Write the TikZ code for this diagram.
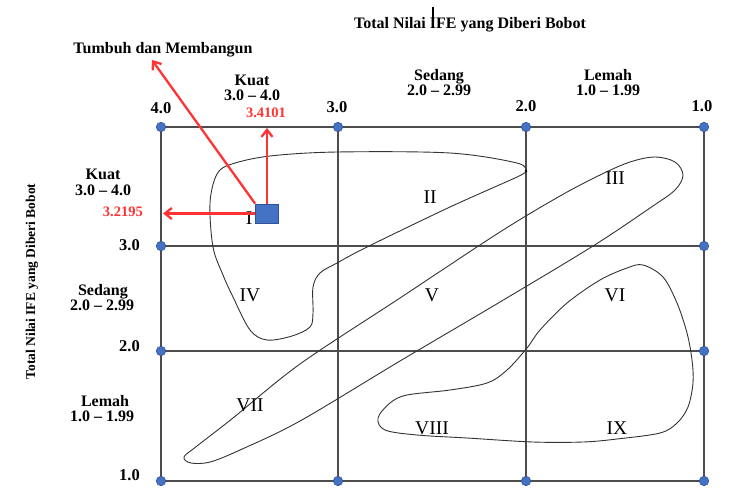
\documentclass[tikz,border=0pt]{standalone}
\usepackage{fontspec}
\setmainfont{Liberation Serif}
\usetikzlibrary{arrows.meta}
\definecolor{dotblue}{HTML}{4472C4}
\definecolor{dotedge}{HTML}{2F5597}
\definecolor{arrred}{HTML}{FF3333}
\definecolor{gridc}{HTML}{4D4D4D}
\definecolor{curvec}{HTML}{333333}
\tikzset{
  lbl/.style={font=\fontsize{16}{16}\selectfont\bfseries, inner sep=0pt, anchor=base},
  numlbl/.style={font=\fontsize{16.5}{16}\selectfont\bfseries, inner sep=0pt, anchor=base},
  rednum/.style={font=\fontsize{14.5}{15}\selectfont\bfseries, inner sep=0pt, text=arrred},
  roman/.style={font=\fontsize{19.5}{20}\selectfont, inner sep=0pt},
  gdot/.style={circle, fill=dotblue, draw=dotedge, line width=0.6pt, minimum size=9.5pt, inner sep=0pt},
  gridline/.style={draw=gridc, line width=1.2pt},
  blob/.style={draw=curvec, line width=0.9pt},
  redarrow/.style={draw=arrred, line width=2.3pt, -{Straight Barb[length=7pt,width=11pt]}},
  posbox/.style={rectangle, fill=dotblue, draw=dotedge, line width=0.8pt, minimum width=23pt, minimum height=19pt, inner sep=0pt}
}
\begin{document}
\begin{tikzpicture}[x=1pt,y=-1pt]
\useasboundingbox (0,0) rectangle (742,499);
% grid coordinates
\coordinate (a1) at (161,127); \coordinate (a2) at (338,127); \coordinate (a3) at (526,127); \coordinate (a4) at (704,127);
\coordinate (b1) at (161,246); \coordinate (b4) at (704,246);
\coordinate (c1) at (161,351); \coordinate (c4) at (704,351);
\coordinate (e1) at (161,481); \coordinate (e2) at (338,481); \coordinate (e3) at (526,481); \coordinate (e4) at (704,481);
% grid lines
\draw[gridline] (a1) -- (a4);
\draw[gridline] (b1) -- (b4);
\draw[gridline] (c1) -- (c4);
\draw[gridline] (e1) -- (e4);
\draw[gridline] (a1) -- (e1);
\draw[gridline] (a2) -- (e2);
\draw[gridline] (a3) -- (e3);
\draw[gridline] (a4) -- (e4);
% curves
\draw[blob] plot[smooth, tension=0.55] coordinates {(526,171) (517,163) (450,153) (337,152) (270,156) (232,164) (217,174) (210,203) (213,247) (223,275) (233,297) (250,330) (267,340) (292,336) (310,327) (313,313) (313,287) (320,273) (337,263) (367,247) (450,207) (517,177) (526,171)};
\draw[blob] plot[smooth cycle, tension=0.55] coordinates {(184,457) (197,446) (233,418) (300,364) (400,298) (500,232) (560,196) (600,175) (630,162) (655,157) (675,162) (683,175) (675,190) (650,208) (593,246) (500,302) (400,361) (300,421) (240,450) (210,462) (191,463)};
\draw[blob] plot[smooth cycle, tension=0.55] coordinates {(643,265) (663,277) (677,303) (687,333) (692,360) (693,383) (688,407) (677,423) (660,433) (617,439) (583,442) (533,442) (467,438) (417,435) (385,430) (378,418) (390,403) (407,395) (450,390) (487,383) (507,370) (527,348) (540,330) (567,303) (600,280) (627,268)};
\fill[black] (526,171) circle (1.4pt);
% dots
\foreach \p in {a1,a2,a3,a4,b1,b4,c1,c4,e1,e2,e3,e4}{\node[gdot] at (\p) {};}
% titles
\node[lbl] (title) at (470,28) {Total Nilai IFE yang Diberi Bobot};
\draw[black, line width=1.6pt] (433,7) -- (433,19);
\node[lbl, rotate=90, anchor=center, font=\fontsize{13.5}{14}\selectfont\bfseries] (vtitle) at (32,281.5) {Total Nilai IFE yang Diberi Bobot};
\node[lbl] (tumbuh) at (163,53) {Tumbuh dan Membangun};
% column headers
\node[lbl] (k1) at (252,85) {Kuat};
\node[lbl] (k2) at (252,100) {3.0 -- 4.0};
\node[lbl] (s1) at (439,80) {Sedang};
\node[lbl] (s2) at (439,95) {2.0 -- 2.99};
\node[lbl] (l1) at (608,80) {Lemah};
\node[lbl] (l2) at (608,95) {1.0 -- 1.99};
\node[numlbl] (x4) at (161,113) {4.0};
\node[numlbl] (x3) at (337,112) {3.0};
\node[numlbl] (x2) at (526,111) {2.0};
\node[numlbl] (x1) at (702,111) {1.0};
\node[rednum, anchor=base] (rx) at (266,117) {3.4101};
% row headers
\node[lbl] (rk1) at (103,179) {Kuat};
\node[lbl] (rk2) at (103,195) {3.0 -- 4.0};
\node[lbl] (rs1) at (103,295) {Sedang};
\node[lbl] (rs2) at (102,310) {2.0 -- 2.99};
\node[lbl] (rl1) at (105,406) {Lemah};
\node[lbl] (rl2) at (102,421) {1.0 -- 1.99};
\node[numlbl, anchor=base east] (y3) at (140,250) {3.0};
\node[numlbl, anchor=base east] (y2) at (140,351) {2.0};
\node[numlbl, anchor=base east] (y1) at (140,480) {1.0};
\node[rednum, anchor=base east] (ry) at (143,216) {3.2195};
% roman numerals
\node[roman] (r1) at (249,218) {I};
\node[roman] (r2) at (430,197) {II};
\node[roman] (r3) at (615,178) {III};
\node[roman] (r4) at (250,295) {IV};
\node[roman] (r5) at (432,295) {V};
\node[roman] (r6) at (615,295) {VI};
\node[roman] (r7) at (250,405) {VII};
\node[roman] (r8) at (432,428) {VIII};
\node[roman] (r9) at (617,428) {IX};
% position box and arrows
\node[posbox] (sq) at (267,213.5) {};
\coordinate (tiptumbuh) at (152,60);
\coordinate (tipup) at (267,128);
\coordinate (tipleft) at (163,213.5);
\draw[redarrow] (sq.north west) -- (tiptumbuh);
\draw[redarrow] (sq.north) -- (tipup);
\draw[redarrow] (sq.west) -- (tipleft);
\node[posbox] at (sq) {};
\end{tikzpicture}
\end{document}
